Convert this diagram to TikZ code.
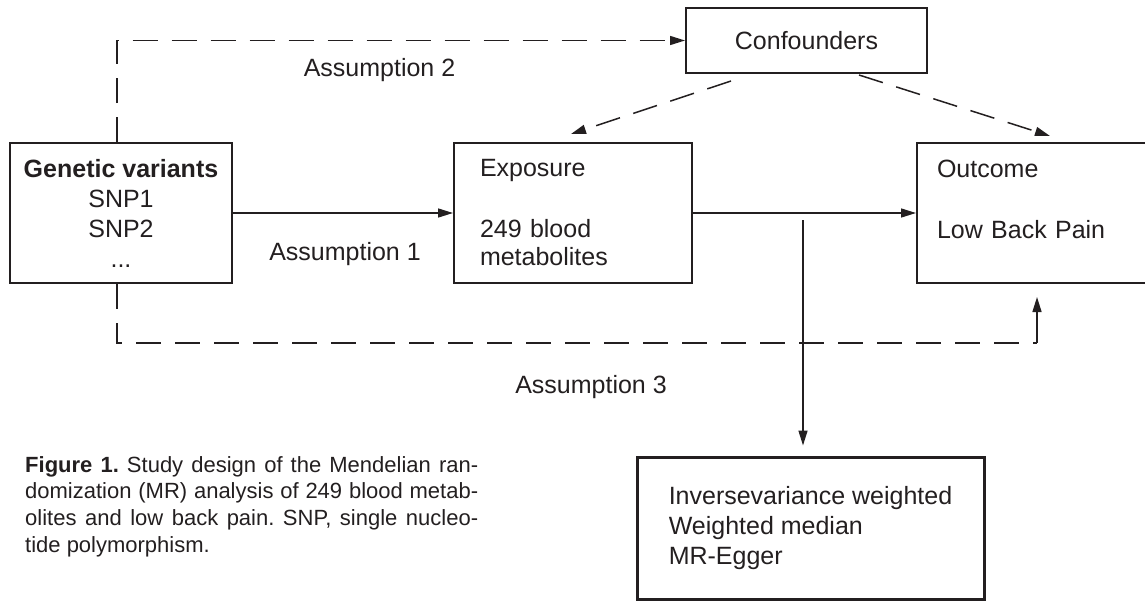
\documentclass[tikz,border=0pt]{standalone}
\usepackage{fontspec}
\setmainfont{Liberation Sans}
\usetikzlibrary{arrows.meta}
\definecolor{tinta}{RGB}{35,31,32}
\tikzset{
  caixa/.style={draw=tinta, line width=2pt, minimum height=140pt, inner sep=0pt, text=tinta, font=\fontsize{25}{30}\selectfont},
  seta/.style={draw=tinta, line width=1.5pt, -{Triangle[length=15pt,width=9pt]}},
  tracejado/.style={draw=tinta, line width=1.5pt, dash pattern=on 25pt off 14pt},
  rotulo/.style={inner sep=0pt, text=tinta, font=\fontsize{25}{30}\selectfont}
}
\begin{document}
\frenchspacing
\begin{tikzpicture}[x=1pt,y=-1pt]
  \useasboundingbox (0,0) rectangle (1145,602);
  \clip (0,0) rectangle (1145,602);
  % Caixas
  \node at (121,213) (gen) [caixa, minimum width=222pt, align=center] {\textbf{Genetic variants}\\SNP1\\SNP2\\...};
  \node at (573,213) (exp) [caixa, minimum width=238pt, text width=186pt, inner xsep=26pt, align=left] {Exposure\\[31pt]249 blood\\[-2pt]metabolites};
  \node at (1033.5,213) (out) [caixa, minimum width=233pt, text width=193pt, inner xsep=20pt, align=left] {Outcome\\[31pt]Low Back Pain\\[-2pt]\mbox{}};
  \node at (806.5,40.5) (conf) [caixa, minimum width=241pt, minimum height=65pt] {Confounders};
  \node at (810.5,528) (met) [caixa, line width=3pt, minimum width=347pt, minimum height=142pt, align=left] {Inversevariance weighted\\Weighted median\\MR-Egger};
  % Setas
  \draw[seta] (gen) -- (exp);
  \draw[seta] (exp) -- (out);
  \draw[tracejado, seta] ([xshift=-4pt]gen.north) |- (conf.west);
  \coordinate (a3) at (1037,343);
  \draw[tracejado] ([xshift=-4pt]gen.south) |- (a3);
  \draw[seta, shorten >=13pt] (a3) -- (a3 |- out.south);
  \draw[tracejado, seta] ([xshift=-75.5pt, yshift=-7pt]conf.south) -- ([xshift=-2pt, yshift=8pt]exp.north);
  \draw[tracejado, seta] ([xshift=52.5pt, yshift=-1pt]conf.south) -- ([xshift=16.5pt, yshift=6pt]out.north);
  \coordinate (div) at (803,220);
  \draw[seta, shorten >=10pt] (div) -- (div |- met.north);
  % Rotulos
  \node at (379.5,70) (as2) [rotulo] {Assumption 2};
  \node at (345,254.5) (as1) [rotulo] {Assumption 1};
  \node at (591,387) (as3) [rotulo] {Assumption 3};
  % Legenda
  \node at (25,456) (leg) [anchor=north west, inner sep=0pt, text width=453pt, align=justify, text=tinta, font=\fontsize{22}{26.7}\selectfont] {\textbf{Figure 1.} Study design of the Mendelian ran-\linebreak domization (MR) analysis of 249 blood metab-\linebreak olites and low back pain. SNP, single nucleo-\linebreak tide polymorphism.};
\end{tikzpicture}
\end{document}
